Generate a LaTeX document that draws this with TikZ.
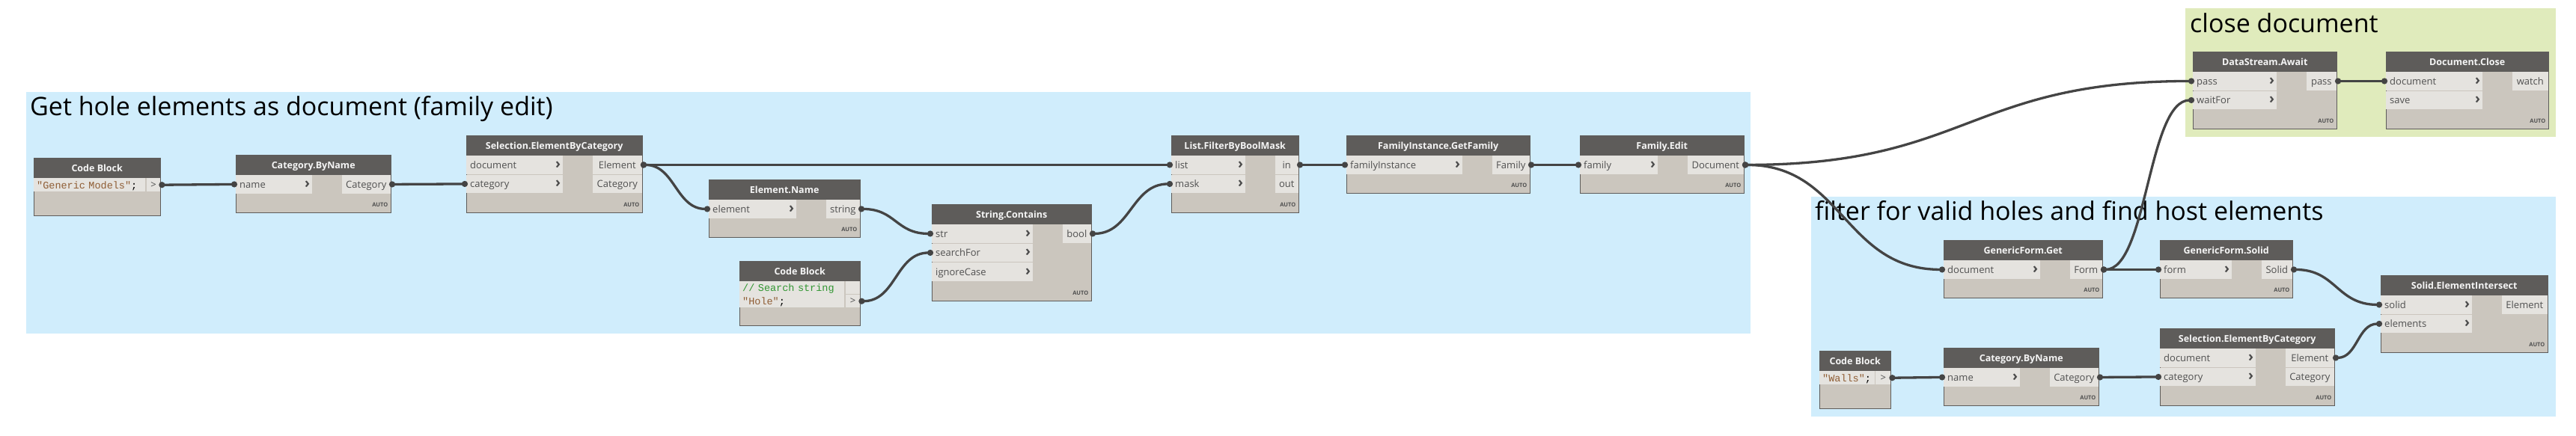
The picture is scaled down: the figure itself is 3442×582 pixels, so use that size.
\documentclass[tikz,border=0pt]{standalone}
\usepackage{fontspec}
\setmainfont{Open Sans}
\setmonofont{Liberation Mono}
\usepackage{xcolor}
\usetikzlibrary{arrows.meta}
\definecolor{groupblue}{RGB}{208,237,252}
\definecolor{groupgreen}{RGB}{224,235,188}
\definecolor{nodehead}{RGB}{94,92,90}
\definecolor{nodebody}{RGB}{203,198,190}
\definecolor{portfill}{RGB}{229,227,223}
\definecolor{porttext}{RGB}{80,80,80}
\definecolor{headtext}{RGB}{245,245,245}
\definecolor{chevcol}{RGB}{75,75,75}
\definecolor{wirecol}{RGB}{68,68,68}
\definecolor{codestring}{RGB}{143,93,52}
\definecolor{codecomment}{RGB}{50,150,50}
\newcommand{\groupfont}{\fontsize{34}{38}\selectfont}
\newcommand{\headfont}{\bfseries\fontsize{12.5}{14}\selectfont}
\newcommand{\portfont}{\fontsize{13}{15}\selectfont}
\newcommand{\codefont}{\ttfamily\fontsize{13.5}{16}\selectfont}
\newcommand{\autofont}{\bfseries\fontsize{7.5}{8}\selectfont}
\tikzstyle{grouptitle}=[anchor=base west, inner sep=0, font=\groupfont]
\tikzstyle{box}=[draw=nodehead, fill=nodebody, line width=1pt, anchor=north west, inner sep=0]
\tikzstyle{head}=[fill=nodehead, text=headtext, anchor=north west, inner sep=0, minimum height=27pt, text height=11pt, text depth=1pt, font=\headfont]
\tikzstyle{portlabel}=[anchor=west, inner xsep=5pt, inner ysep=0, text height=11pt, text depth=1pt, text=porttext, font=\portfont]
\tikzstyle{chevron}=[anchor=east, inner xsep=3pt, inner ysep=0, text=chevcol, font=\bfseries\fontsize{19}{19}\selectfont]
\tikzset{inport/.style={fill=portfill, anchor=north west, inner sep=0, minimum height=24.5pt, label={[portlabel]west:#1}, label={[chevron]east:›}}}
\tikzstyle{outport}=[fill=portfill, anchor=north east, inner sep=0, minimum height=24.5pt, text height=11pt, text depth=1pt, text=porttext, font=\portfont]
\tikzstyle{autotag}=[anchor=base east, inner sep=0, text=porttext, font=\autofont]
\tikzstyle{codeline}=[fill=portfill, anchor=north west, inner xsep=4pt, inner ysep=0, align=left, text height=11pt, text depth=1pt, font=\codefont]
\tikzstyle{codeport}=[fill=portfill, anchor=north west, inner sep=0, text height=9pt, text depth=1pt, text=porttext, font=\portfont]
\tikzset{wire/.style={draw=wirecol, line width=3.3pt, {Circle[length=8pt]}-{Circle[length=8pt]}, shorten <=-2pt, shorten >=-2pt}}

\begin{document}
\begin{tikzpicture}[x=1pt,y=-1pt]
  \useasboundingbox (0,0) rectangle (3442,582);

  %% Get hole elements
  \fill[groupblue] (35,123) rectangle (2339,446);
  \node[grouptitle] (titleA) at (40,154) {Get hole elements as document (family edit)};

  \node[box, minimum width=169pt, minimum height=77pt] (cbA) at (45,211) {};
  \node[head, minimum width=169pt] at (cbA.north west) {Code Block};
  \node[codeline, text width=141pt, minimum height=18pt] (cbA-code) at (45,238) {\textcolor{codestring}{"Generic Models"};};
  \node[codeport, minimum width=18pt, minimum height=18pt] (cbA-out) at (196,238) {>};

  \node[box, minimum width=207pt, minimum height=77pt] (catA) at (315,207) {};
  \node[head, minimum width=207pt] at (catA.north west) {Category.ByName};
  \node[inport=name, minimum width=102pt] (catA-name) at (315,234) {};
  \node[outport, minimum width=65pt] (catA-Category) at (522,234) {Category};
  \node[autotag] at ([xshift=-4.5pt,yshift=9pt]catA.south east) {AUTO};

  \node[box, minimum width=235pt, minimum height=103pt] (selA) at (623,181) {};
  \node[head, minimum width=235pt] at (selA.north west) {Selection.ElementByCategory};
  \node[inport=document, minimum width=129pt] (selA-document) at (623,208) {};
  \node[inport=category, minimum width=129pt] (selA-category) at (623,233.5) {};
  \node[outport, minimum width=66pt] (selA-Element) at (858,208) {Element};
  \node[outport, minimum width=66pt] (selA-Category) at (858,233.5) {Category};
  \node[autotag] at ([xshift=-4.5pt,yshift=9pt]selA.south east) {AUTO};

  \node[box, minimum width=202pt, minimum height=77pt] (nameA) at (947,240) {};
  \node[head, minimum width=202pt] at (nameA.north west) {Element.Name};
  \node[inport=element, minimum width=117pt] (nameA-element) at (947,267) {};
  \node[outport, minimum width=45pt] (nameA-string) at (1149,267) {string};
  \node[autotag] at ([xshift=-4.5pt,yshift=9pt]nameA.south east) {AUTO};

  \node[box, minimum width=161pt, minimum height=86pt] (cbB) at (988,349) {};
  \node[head, minimum width=161pt] at (cbB.north west) {Code Block};
  \node[codeline, text width=132pt, minimum height=17.5pt] (cbB-comment) at (988,376) {\textcolor{codecomment}{// Search string}};
  \node[codeline, text width=132pt, minimum height=17.5pt] (cbB-code) at (988,393.5) {\textcolor{codestring}{"Hole"};};
  \node[codeport, minimum width=19pt, minimum height=17pt] (cbB-blank) at (1130,376) {};
  \node[codeport, minimum width=19pt, minimum height=17pt] (cbB-out) at (1130,394) {>};

  \node[box, minimum width=213pt, minimum height=129pt] (strA) at (1245,273) {};
  \node[head, minimum width=213pt] at (strA.north west) {String.Contains};
  \node[inport=str, minimum width=135pt] (strA-str) at (1245,300) {};
  \node[inport=searchFor, minimum width=135pt] (strA-searchFor) at (1245,325.5) {};
  \node[inport=ignoreCase, minimum width=135pt] (strA-ignoreCase) at (1245,351) {};
  \node[outport, minimum width=38pt] (strA-bool) at (1458,300) {bool};
  \node[autotag] at ([xshift=-4.5pt,yshift=9pt]strA.south east) {AUTO};

  \node[box, minimum width=170pt, minimum height=103pt] (maskA) at (1565,181) {};
  \node[head, minimum width=170pt] at (maskA.north west) {List.FilterByBoolMask};
  \node[inport=list, minimum width=99pt] (maskA-list) at (1565,208) {};
  \node[inport=mask, minimum width=99pt] (maskA-mask) at (1565,233.5) {};
  \node[outport, minimum width=31pt] (maskA-in) at (1735,208) {in};
  \node[outport, minimum width=31pt] (maskA-out) at (1735,233.5) {out};
  \node[autotag] at ([xshift=-4.5pt,yshift=9pt]maskA.south east) {AUTO};

  \node[box, minimum width=245pt, minimum height=77pt] (famA) at (1799,181) {};
  \node[head, minimum width=245pt] at (famA.north west) {FamilyInstance.GetFamily};
  \node[inport=familyInstance, minimum width=155pt] (famA-familyInstance) at (1799,208) {};
  \node[outport, minimum width=50pt] (famA-Family) at (2044,208) {Family};
  \node[autotag] at ([xshift=-4.5pt,yshift=9pt]famA.south east) {AUTO};

  \node[box, minimum width=219pt, minimum height=77pt] (editA) at (2111,181) {};
  \node[head, minimum width=219pt] at (editA.north west) {Family.Edit};
  \node[inport=family, minimum width=104pt] (editA-family) at (2111,208) {};
  \node[outport, minimum width=75pt] (editA-Document) at (2330,208) {Document};
  \node[autotag] at ([xshift=-4.5pt,yshift=9pt]editA.south east) {AUTO};

  %% filter for valid holes
  \fill[groupblue] (2420,263) rectangle (3415,557);
  \node[grouptitle] (titleB) at (2425,294) {filter for valid holes and find host elements};

  \node[box, minimum width=212pt, minimum height=77pt] (formB) at (2597,321) {};
  \node[head, minimum width=212pt] at (formB.north west) {GenericForm.Get};
  \node[inport=document, minimum width=129pt] (formB-document) at (2597,348) {};
  \node[outport, minimum width=43pt] (formB-Form) at (2809,348) {Form};
  \node[autotag] at ([xshift=-4.5pt,yshift=9pt]formB.south east) {AUTO};

  \node[box, minimum width=177pt, minimum height=77pt] (solidB) at (2886,321) {};
  \node[head, minimum width=177pt] at (solidB.north west) {GenericForm.Solid};
  \node[inport=form, minimum width=96pt] (solidB-form) at (2886,348) {};
  \node[outport, minimum width=41pt] (solidB-Solid) at (3063,348) {Solid};
  \node[autotag] at ([xshift=-4.5pt,yshift=9pt]solidB.south east) {AUTO};

  \node[box, minimum width=223pt, minimum height=103pt] (interB) at (3181,368) {};
  \node[head, minimum width=223pt] at (interB.north west) {Solid.ElementIntersect};
  \node[inport=solid, minimum width=122pt] (interB-solid) at (3181,395) {};
  \node[inport=elements, minimum width=122pt] (interB-elements) at (3181,420.5) {};
  \node[outport, minimum width=61pt] (interB-Element) at (3404,395) {Element};
  \node[autotag] at ([xshift=-4.5pt,yshift=9pt]interB.south east) {AUTO};

  \node[box, minimum width=233pt, minimum height=103pt] (selB) at (2886,439) {};
  \node[head, minimum width=233pt] at (selB.north west) {Selection.ElementByCategory};
  \node[inport=document, minimum width=128pt] (selB-document) at (2886,466) {};
  \node[inport=category, minimum width=128pt] (selB-category) at (2886,491.5) {};
  \node[outport, minimum width=65pt] (selB-Element) at (3119,466) {Element};
  \node[outport, minimum width=65pt] (selB-Category) at (3119,491.5) {Category};
  \node[autotag] at ([xshift=-4.5pt,yshift=9pt]selB.south east) {AUTO};

  \node[box, minimum width=207pt, minimum height=77pt] (catB) at (2597,465) {};
  \node[head, minimum width=207pt] at (catB.north west) {Category.ByName};
  \node[inport=name, minimum width=102pt] (catB-name) at (2597,492) {};
  \node[outport, minimum width=65pt] (catB-Category) at (2804,492) {Category};
  \node[autotag] at ([xshift=-4.5pt,yshift=9pt]catB.south east) {AUTO};

  \node[box, minimum width=95pt, minimum height=77pt] (cbC) at (2431,469) {};
  \node[head, minimum width=95pt] at (cbC.north west) {Code Block};
  \node[codeline, text width=66pt, minimum height=18pt] (cbC-code) at (2431,496) {\textcolor{codestring}{"Walls"};};
  \node[codeport, minimum width=20pt, minimum height=18pt] (cbC-out) at (2506,496) {>};

  %% close document
  \fill[groupgreen] (2920,11) rectangle (3415,183);
  \node[grouptitle] (titleC) at (2926,43) {close document};

  \node[box, minimum width=192pt, minimum height=103pt] (awaitC) at (2930,69) {};
  \node[head, minimum width=192pt] at (awaitC.north west) {DataStream.Await};
  \node[inport=pass, minimum width=112pt] (awaitC-pass) at (2930,96) {};
  \node[inport=waitFor, minimum width=112pt] (awaitC-waitFor) at (2930,121.5) {};
  \node[outport, minimum width=40pt] (awaitC-passOut) at (3122,96) {pass};
  \node[autotag] at ([xshift=-4.5pt,yshift=9pt]awaitC.south east) {AUTO};

  \node[box, minimum width=217pt, minimum height=103pt] (closeC) at (3188,69) {};
  \node[head, minimum width=217pt] at (closeC.north west) {Document.Close};
  \node[inport=document, minimum width=129pt] (closeC-document) at (3188,96) {};
  \node[inport=save, minimum width=129pt] (closeC-save) at (3188,121.5) {};
  \node[outport, minimum width=48pt] (closeC-watch) at (3405,96) {watch};
  \node[autotag] at ([xshift=-4.5pt,yshift=9pt]closeC.south east) {AUTO};

  %% Wires
  \draw[wire] (cbA-out.east) .. controls +(50,0) and +(-50,0) .. (catA-name.west);
  \draw[wire] (catA-Category.east) .. controls +(50,0) and +(-50,0) .. (selA-category.west);
  \draw[wire] (selA-Element.east) .. controls +(353,0) and +(-353,0) .. (maskA-list.west);
  \draw[wire] (selA-Element.east) .. controls +(44,0) and +(-44,0) .. (nameA-element.west);
  \draw[wire] (nameA-string.east) .. controls +(48,0) and +(-48,0) .. (strA-str.west);
  \draw[wire] (cbB-out.east) .. controls +(48,0) and +(-48,0) .. (strA-searchFor.west);
  \draw[wire] (strA-bool.east) .. controls +(53,0) and +(-53,0) .. (maskA-mask.west);
  \draw[wire] (maskA-in.east) .. controls +(32,0) and +(-32,0) .. (famA-familyInstance.west);
  \draw[wire] (famA-Family.east) .. controls +(33,0) and +(-33,0) .. (editA-family.west);
  \draw[wire] (editA-Document.east) .. controls +(300,0) and +(-300,0) .. (awaitC-pass.west);
  \draw[wire] (editA-Document.east) .. controls +(133,0) and +(-133,0) .. (formB-document.west);
  \draw[wire] (formB-Form.east) .. controls +(38,0) and +(-38,0) .. (solidB-form.west);
  \draw[wire] (formB-Form.east) .. controls +(60,0) and +(-60,0) .. (awaitC-waitFor.west);
  \draw[wire] (awaitC-passOut.east) .. controls +(33,0) and +(-33,0) .. (closeC-document.west);
  \draw[wire] (solidB-Solid.east) .. controls +(59,0) and +(-59,0) .. (interB-solid.west);
  \draw[wire] (cbC-out.east) .. controls +(35,0) and +(-35,0) .. (catB-name.west);
  \draw[wire] (catB-Category.east) .. controls +(41,0) and +(-41,0) .. (selB-category.west);
  \draw[wire] (selB-Element.east) .. controls +(31,0) and +(-31,0) .. (interB-elements.west);
\end{tikzpicture}
\end{document}
